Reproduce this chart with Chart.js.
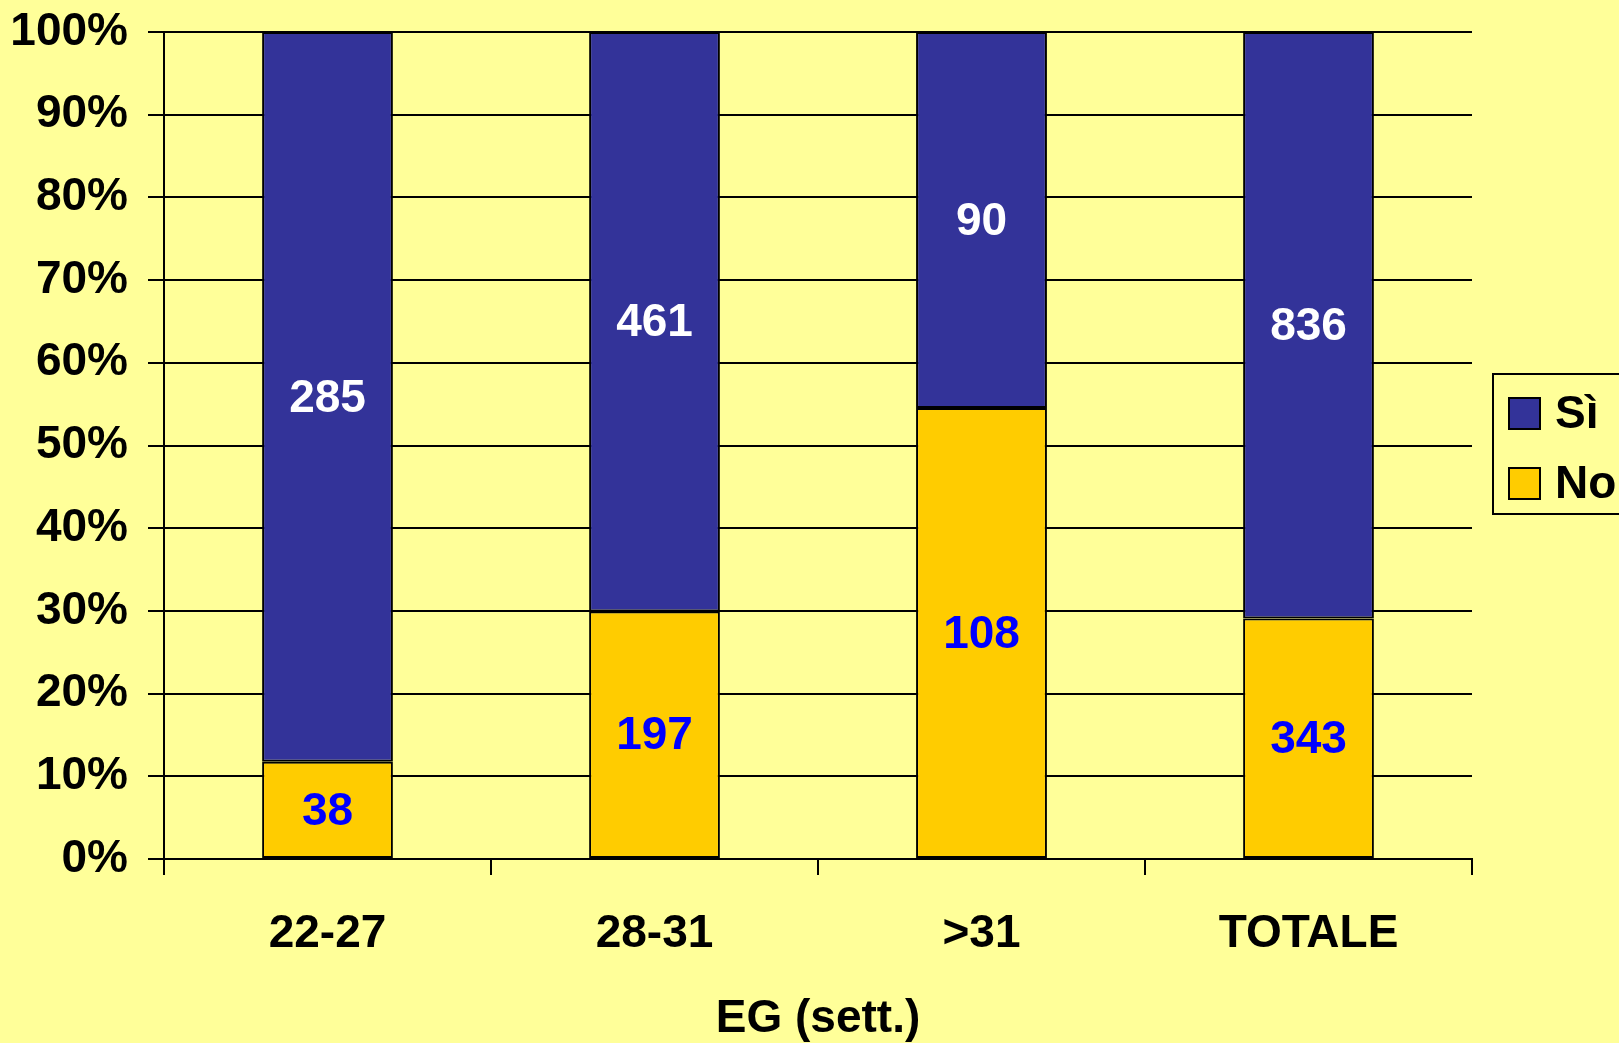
<!DOCTYPE html>
<html>
<head>
<meta charset="utf-8">
<script src="https://cdn.jsdelivr.net/npm/chart.js@4/dist/chart.umd.min.js"></script>
<style>
  html, body { margin: 0; padding: 0; background: #FFFF99; }
  #wrap { width: 1619px; height: 1043px; }
</style>
</head>
<body>
<div id="wrap"><canvas id="c" width="1619" height="1043"></canvas></div>
<script>
const categories = ['22-27', '28-31', '>31', 'TOTALE'];
const siCounts = [285, 461, 90, 836];
const noCounts = [38, 197, 108, 343];
const yTickValues = [0, 10, 20, 30, 40, 50, 60, 70, 80, 90, 100];
const seriesNames = ['Sì', 'No'];
const axisTitle = 'EG (sett.)';

const totals = siCounts.map((v, i) => v + noCounts[i]);
const siPct = siCounts.map((v, i) => v / totals[i] * 100);
const noPct = noCounts.map((v, i) => v / totals[i] * 100);

const FONT = '"Liberation Sans", Arial, sans-serif';
const SI_COLOR = '#333399';
const NO_COLOR = '#FFCC00';

const bgPlugin = {
  id: 'bg',
  beforeDraw(chart) {
    const ctx = chart.ctx;
    ctx.save();
    ctx.fillStyle = '#FFFF99';
    ctx.fillRect(0, 0, chart.width, chart.height);
    ctx.restore();
  }
};

const labelPlugin = {
  id: 'segLabels',
  afterDatasetsDraw(chart) {
    const ctx = chart.ctx;
    ctx.save();
    ctx.font = 'bold 46px ' + FONT;
    ctx.textAlign = 'center';
    ctx.textBaseline = 'middle';
    chart.data.datasets.forEach((ds, di) => {
      const meta = chart.getDatasetMeta(di);
      meta.data.forEach((el, i) => {
        const y = (el.y + el.base) / 2;
        ctx.fillStyle = ds.labelColor;
        ctx.fillText(String(ds.counts[i]), el.x, y + 2);
      });
    });
    ctx.restore();
  }
};

const legendPlugin = {
  id: 'boxLegend',
  afterDraw(chart) {
    const ctx = chart.ctx;
    ctx.save();
    ctx.lineWidth = 2;
    ctx.strokeStyle = '#000';
    ctx.strokeRect(1493, 374, 140, 140);
    const items = [
      { name: seriesNames[0], color: SI_COLOR, y: 398 },
      { name: seriesNames[1], color: NO_COLOR, y: 468 }
    ];
    ctx.font = 'bold 46px ' + FONT;
    ctx.textAlign = 'left';
    ctx.textBaseline = 'middle';
    items.forEach(it => {
      ctx.fillStyle = it.color;
      ctx.fillRect(1509, it.y, 31, 31);
      ctx.strokeRect(1509, it.y, 31, 31);
      ctx.fillStyle = '#000';
      ctx.fillText(it.name, 1555, it.y + 17);
    });
    ctx.restore();
  }
};

new Chart(document.getElementById('c'), {
  type: 'bar',
  data: {
    labels: categories,
    datasets: [
      {
        label: seriesNames[1],
        data: noPct,
        counts: noCounts,
        labelColor: '#0000FF',
        backgroundColor: NO_COLOR,
        borderColor: '#000',
        borderWidth: 2,
        borderSkipped: false,
        barPercentage: 0.4,
        categoryPercentage: 1.0
      },
      {
        label: seriesNames[0],
        data: siPct,
        counts: siCounts,
        labelColor: '#FFFFFF',
        backgroundColor: SI_COLOR,
        borderColor: '#000',
        borderWidth: 2,
        borderSkipped: false,
        barPercentage: 0.4,
        categoryPercentage: 1.0
      }
    ]
  },
  options: {
    responsive: false,
    animation: false,
    devicePixelRatio: 1,
    layout: { padding: { top: 32, right: 147, left: 0, bottom: 0 } },
    plugins: {
      legend: { display: false },
      tooltip: { enabled: false },
      title: { display: false }
    },
    scales: {
      x: {
        stacked: true,
        offset: true,
        afterFit(s) { s.height = 184; s.paddingLeft = 0; s.paddingRight = 0; },
        grid: {
          display: true,
          drawOnChartArea: true,
          drawTicks: true,
          tickLength: 16,
          tickColor: '#000',
          tickWidth: 2,
          lineWidth: 2,
          color: (c) => (c.index === categories.length ? '#000' : 'rgba(0,0,0,0)')
        },
        border: { display: true, color: '#000', width: 2 },
        ticks: {
          color: '#000',
          font: { family: FONT, size: 46, weight: 'bold' },
          padding: 32,
          maxRotation: 0
        },
        title: {
          display: true,
          text: axisTitle,
          color: '#000',
          font: { family: FONT, size: 46, weight: 'bold' },
          padding: { top: 0, bottom: -4 }
        }
      },
      y: {
        stacked: true,
        min: 0,
        max: 100,
        afterFit(s) { s.width = 164; s.paddingTop = 0; s.paddingBottom = 0; },
        afterBuildTicks(s) { s.ticks = yTickValues.map(v => ({ value: v })); },
        grid: {
          color: '#000',
          lineWidth: 2,
          tickLength: 16,
          tickColor: '#000',
          tickWidth: 2
        },
        border: { display: true, color: '#000', width: 2 },
        ticks: {
          stepSize: 10,
          color: '#000',
          padding: 20,
          font: { family: FONT, size: 46, weight: 'bold' },
          callback: (v) => v + '%'
        }
      }
    }
  },
  plugins: [bgPlugin, labelPlugin, legendPlugin]
});
</script>
</body>
</html>
